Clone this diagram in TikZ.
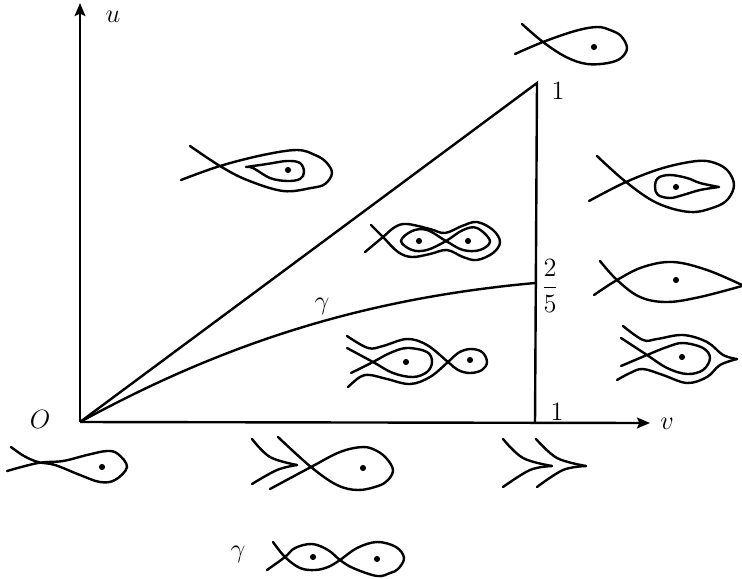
\documentclass[tikz,border=0pt]{standalone}
\usetikzlibrary{arrows.meta}
\tikzset{
	axis/.style={line width=1.2pt, -{Stealth[length=6.5pt, width=5.4pt, inset=1.2pt]}},
	edge/.style={line width=1.2pt},
	curve/.style={line width=1.2pt, smooth, tension=0.6, line cap=round},
	puncture/.style={circle, inner sep=0pt, minimum size=2.6pt, fill=black, draw=black},
	tag/.style={inner sep=0pt, font=\large, scale=1.1}
}
\begin{document}
\begin{tikzpicture}[x=0.5pt, y=-0.5pt]
			\useasboundingbox (0,0) rectangle (742,578);
			\coordinate (O) at (80,422);
			\coordinate (utop) at (80,3);
			\coordinate (vend) at (650,423);
			\coordinate (a1) at (537,83);
			\coordinate (b1) at (535,423);
			\coordinate (c1) at (535,283);
			\draw[axis] (O) -- (utop);
			\draw[axis] (O) -- (vend);
			\draw[edge, line join=miter] (O) -- (a1) -- (b1);
			\draw[edge] (O) .. controls (230,340) and (370,298) .. (c1);
			\node[tag](lO) at (40,419){$O$};
			\node[tag](lu) at (113,17){$u$};
			\node[tag](lv) at (667,424){$v$};
			\node[tag](lone1) at (558,91){$1$};
			\node[tag](lone2) at (557,412){$1$};
			\node[tag](lfrac) at (550,286){$\displaystyle\frac{2}{5}$};
			\node[tag](lgamma1) at (322,306){$\gamma$};
			\node[tag](lgamma2) at (238,554){$\gamma$};
			\draw[curve] plot coordinates {(522,24) (543,42) (566,57) (587,64) (608,63) (621,58) (627,48) (621,36) (610,30) (597,27) (575,31) (543,42) (515,54)};
			\node[puncture](p1) at (594,47){};
			\draw[curve] plot coordinates {(597,156) (626,182) (657,203) (690,212) (715,207) (728,199) (734,185) (728,171) (715,163) (697,161) (663,168) (626,182) (589,201)};
			\draw[curve] plot coordinates {(719,187) (700,183) (687,178) (670,175) (658,178) (655,187) (658,195) (670,198) (683,195) (700,190) (719,187)};
			\node[puncture](p2) at (676,187){};
			\draw[curve] plot coordinates {(600,261) (617,280) (640,297) (667,302) (700,297) (742,286)};
			\draw[curve] plot coordinates {(742,285) (707,270) (673,262) (643,267) (617,280) (594,295)};
			\node[puncture](p3) at (676,280){};
			\draw[curve] plot coordinates {(623,326) (643,340) (657,339) (683,335) (707,342) (723,355) (737,359)};
			\draw[curve] plot coordinates {(737,359) (720,365) (707,377) (687,383) (663,375) (643,369) (630,373) (617,380)};
			\draw[curve] plot coordinates {(621,338) (647,355) (667,368) (687,374) (703,370) (710,358) (703,348) (683,343) (667,347) (647,355) (621,366)};
			\node[puncture](p4) at (682,357){};
			\draw[curve] plot coordinates {(371,225) (383,237) (398,252) (412,257) (430,254) (447,250) (463,257) (477,260) (493,253) (500,242) (493,230) (477,222) (462,226) (445,233) (430,229) (407,224) (395,227) (383,237) (365,252)};
			\draw[curve] plot[smooth cycle] coordinates {(446,241) (463,230) (477,228) (490,241) (480,250) (463,250) (446,241) (427,230) (412,231) (401,241) (412,250) (427,250)};
			\node[puncture](p5) at (419,241){};
			\node[puncture](p6) at (468,241){};
			\draw[curve] plot coordinates {(347,336) (368,348) (383,346) (407,339) (427,345) (448,362) (458,370) (470,373) (482,370) (487,362) (482,352) (470,349) (458,353) (448,362) (430,377) (410,384) (387,379) (370,375) (360,377) (348,387)};
			\draw[curve] plot coordinates {(347,348) (373,362) (393,373) (413,377) (427,372) (432,362) (427,352) (407,348) (390,353) (373,362) (351,373)};
			\node[puncture](p7) at (406,362){};
			\node[puncture](p8) at (470,360){};
			\draw[curve] plot coordinates {(190,146) (220,166) (247,180) (283,191) (311,188) (325,184) (332,173) (326,162) (315,155) (297,150) (263,155) (220,166) (181,180)};
			\draw[curve] plot coordinates {(246,167) (267,164) (287,161) (300,163) (304,172) (300,179) (287,181) (270,178) (253,168) (246,167)};
			\node[puncture](p9) at (288,170){};
			\draw[curve] plot coordinates {(11,447) (24,456) (38,462) (55,465) (80,475) (100,482) (115,480) (127,467) (118,454) (107,451) (87,455) (63,461) (38,463) (7,471)};
			\node[puncture](p10) at (102,467){};
			\draw[curve] plot coordinates {(252,439) (270,457) (297,465)};
			\draw[curve] plot coordinates {(297,465) (277,470) (252,484)};
			\draw[curve] plot coordinates {(278,437) (311,467) (337,485) (358,490) (378,486) (388,480) (393,470) (387,459) (377,451) (363,447) (340,452) (311,467) (270,489)};
			\node[puncture](p11) at (363,468){};
			\draw[curve] plot coordinates {(503,439) (523,458) (552,466)};
			\draw[curve] plot coordinates {(552,466) (530,470) (503,487)};
			\draw[curve] plot coordinates {(536,439) (557,458) (586,466)};
			\draw[curve] plot coordinates {(586,466) (563,470) (537,487)};
			\draw[curve] plot coordinates {(273,542) (285,557) (300,568) (315,570) (328,567) (340,560) (357,548) (377,542) (396,547) (404,558) (398,569) (390,573) (377,576) (353,568) (340,560) (328,550) (312,544) (295,548) (285,557) (267,570)};
			\node[puncture](p12) at (313,557){};
			\node[puncture](p13) at (377,559){};
\end{tikzpicture}
\end{document}
